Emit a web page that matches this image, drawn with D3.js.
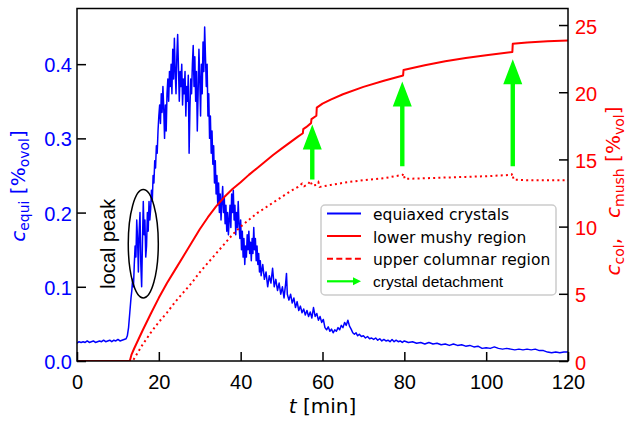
<!DOCTYPE html>
<html>
<head>
<meta charset="utf-8">
<script src="https://cdn.jsdelivr.net/npm/d3@7"></script>
<style>
  body { margin: 0; background: #fff; }
  svg { display: block; }
</style>
</head>
<body>
<svg id="chart" width="627" height="421"></svg>
<script>
// ---- data -------------------------------------------------------------
const timeTicks = [0, 20, 40, 60, 80, 100, 120];
const equiTicks = [0, 0.1, 0.2, 0.3, 0.4];
const volTicks = [0, 5, 10, 15, 20, 25];

// equiaxed crystal fraction c_equi [permille vol] over time t [min]
const equiaxed = [
  [0,.024],[0.5,.026],[1,.025],[1.5,.026],[2,.025],[2.5,.027],[3,.025],[3.5,.026],[4,.027],[4.5,.025],
  [5,.026],[5.5,.027],[6,.026],[6.5,.028],[7,.026],[7.5,.027],[8,.028],[8.5,.026],[9,.028],[9.5,.027],
  [10,.029],[10.5,.027],[11,.028],[11.5,.029],[12,.030],
  [12.3,.034],[12.6,.045],[12.9,.065],[13.2,.085],[13.4,.095],[13.6,.11],[13.8,.10],[14.0,.13],[14.2,.155],
  [14.4,.14],[14.6,.19],[14.8,.165],[15.0,.12],[15.2,.175],[15.4,.20],[15.6,.13],[15.8,.10],[16.0,.16],
  [16.2,.215],[16.4,.17],[16.6,.19],[16.8,.14],[17.0,.155],[17.2,.20],[17.4,.175],[17.6,.215],[17.8,.19],
  [18.0,.205],[18.2,.23],[18.4,.215],[18.6,.25],[18.8,.24],[19.0,.27],[19.2,.26],[19.4,.29],[19.6,.28],
  [19.8,.31],[20.0,.33],[20.2,.345],[20.4,.32],[20.6,.36],[20.8,.335],[21.0,.37],[21.2,.34],[21.4,.30],
  [21.6,.345],[21.8,.31],[22.0,.36],[22.2,.38],[22.4,.35],[22.6,.39],[22.8,.37],[23.0,.40],[23.2,.36],
  [23.4,.42],[23.6,.38],[23.8,.435],[24.0,.39],[24.2,.36],[24.4,.41],[24.6,.44],[24.8,.395],[25.0,.35],
  [25.2,.39],[25.4,.37],[25.6,.40],[25.8,.345],[26.0,.38],[26.2,.36],[26.4,.39],[26.6,.33],[26.8,.37],
  [27.0,.35],[27.2,.385],[27.4,.28],[27.6,.34],[27.8,.38],[28.0,.36],[28.2,.40],[28.4,.425],[28.6,.37],
  [28.8,.41],[29.0,.35],[29.2,.39],[29.4,.31],[29.6,.36],[29.8,.42],[30.0,.38],[30.2,.33],[30.4,.40],
  [30.6,.36],[30.8,.43],[31.0,.39],[31.2,.45],[31.4,.41],[31.6,.37],[31.8,.40],[32.0,.33],[32.2,.36],
  [32.4,.30],[32.6,.33],[32.8,.28],[33.0,.31],[33.2,.265],[33.4,.29],[33.6,.24],[33.8,.27],[34.0,.225],
  [34.2,.25],[34.4,.21],[34.6,.24],[34.8,.20],[35.0,.225],[35.2,.19],[35.4,.215],[35.6,.235],[35.8,.20],
  [36.0,.22],[36.2,.185],[36.4,.21],[36.6,.175],[36.8,.20],[37.0,.17],[37.2,.19],[37.4,.21],[37.6,.18],
  [37.8,.225],[38.0,.20],[38.2,.23],[38.4,.19],[38.6,.21],[38.8,.17],[39.0,.20],[39.2,.18],[39.4,.215],
  [39.6,.185],[39.8,.165],[40.0,.19],[40.2,.15],[40.4,.175],[40.6,.14],[40.8,.165],[41.0,.13],[41.2,.155],
  [41.4,.14],[41.6,.17],[41.8,.15],[42.0,.175],[42.2,.145],[42.4,.16],[42.6,.135],[42.8,.165],[43.0,.145],
  [43.2,.18],[43.4,.15],[43.6,.165],[43.8,.135],[44.0,.155],[44.2,.13],[44.4,.145],[44.6,.12],[44.8,.135],
  [45.0,.115],[45.4,.13],[45.8,.11],[46.2,.12],[46.6,.10],[47.0,.115],[47.4,.105],[47.8,.125],[48.2,.10],
  [48.6,.11],[49.0,.095],[49.4,.105],[49.8,.09],[50.2,.10],[50.6,.085],[51.0,.105],[51.2,.118],[51.4,.09],
  [51.8,.082],[52.2,.09],[52.6,.078],[53.0,.085],[53.4,.072],[53.8,.08],[54.2,.068],[54.6,.074],[55.0,.065],
  [55.4,.07],[55.8,.062],[56.2,.068],[56.6,.06],[57.0,.066],[57.4,.058],[57.8,.072],[58.2,.06],[58.6,.064],
  [59.0,.055],[59.4,.06],[59.8,.052],[60.2,.056],[60.6,.045],[61.0,.042],[61.4,.046],[61.8,.040],[62.2,.043],
  [62.6,.038],[63.0,.042],[63.4,.04],[63.8,.045],[64.2,.042],[64.6,.048],[65.0,.045],[65.4,.052],[65.8,.048],
  [66.2,.055],[66.6,.047],[67.0,.043],[67.4,.038],[67.8,.036],[68.2,.038],[68.6,.034],[69.0,.036],[69.5,.033],
  [70,.034],[70.5,.031],[71,.033],[71.5,.030],[72,.031],[72.5,.029],[73,.031],[73.5,.028],[74,.030],
  [74.5,.027],[75,.029],[75.5,.027],[76,.028],[76.5,.026],[77,.029],[77.5,.026],[78,.028],[78.5,.026],
  [79,.027],[79.5,.025],[80,.027],[81,.025],[82,.026],[83,.024],[84,.025],[85,.023],[86,.025],[87,.023],
  [88,.024],[89,.022],[90,.023],[91,.021],[92,.023],[93,.021],[94,.022],[95,.020],[96,.021],[97,.019],
  [98,.020],[99,.017],[100,.018],[101,.017],[102,.019],[103,.017],[104,.016],[105,.017],[106,.016],
  [107,.015],[108,.016],[109,.015],[110,.016],[111,.015],[112,.016],[113,.014],[114,.014],[115,.012],
  [116,.011],[117,.012],[118,.011],[119,.012],[120,.012]
];

// lower mushy region c_mush [% vol]
const mushy = [
  [0,0],[12.9,0],[13.3,0.45],[14,0.95],[15,1.6],[16,2.25],[18,3.5],[20,4.7],[22,5.8],[24,6.8],
  [26,7.8],[28,8.8],[30,9.8],[32,10.7],[34,11.5],[36,12.2],[38,12.8],[40,13.3],[42,13.85],[44,14.35],
  [46,14.85],[48,15.35],[50,15.8],[52,16.25],[54,16.7],[55.2,16.95],[55.3,17.25],[56,17.4],[57.2,17.7],
  [57.3,18.0],[58.5,18.25],[58.6,18.85],[60,19.15],[62,19.45],[65,19.85],[70,20.4],[75,20.85],
  [79.7,21.25],[79.8,21.65],[85,22.0],[90,22.3],[95,22.55],[100,22.75],[106.4,23.0],[106.5,23.6],
  [110,23.7],[115,23.8],[120,23.85]
];

// upper columnar region c_col [% vol]
const columnar = [
  [0,0],[13.6,0],[14.2,0.3],[15,0.7],[16,1.2],[18,2.1],[20,2.9],[22,3.6],[24,4.4],[26,5.1],[28,5.8],
  [30,6.6],[32,7.3],[34,8.0],[36,8.7],[38,9.4],[40,10.0],[42,10.5],[44,11.0],[46,11.4],[48,11.8],
  [50,12.2],[52,12.6],[54,12.95],[55,13.2],[55.5,13.0],[56.5,13.15],[57,13.4],[57.5,13.05],[58.5,13.1],
  [59,13.3],[59.3,12.95],[62,13.1],[66,13.3],[70,13.45],[75,13.6],[79.6,13.85],[79.8,13.95],[80.1,13.55],
  [85,13.6],[90,13.65],[95,13.7],[100,13.75],[103,13.8],[106.2,13.85],[106.4,13.95],[106.7,13.5],
  [110,13.45],[115,13.45],[120,13.45]
];

// crystal detachment events: time, arrow base and tip on the volume axis
const detachTime = [57.5, 79.5, 106.5];
const detachFrom = [13.5, 14.5, 14.5];
const detachTo = [17.6, 20.8, 22.45];

// local peak marker: centre (t, c_equi) and half extents
const peakCentre = [16.2, 0.158];
const peakHalf = [3.67, 0.073];

const legendItems = [
  { label: "equiaxed crystals", kind: "blue" },
  { label: "lower mushy region", kind: "solid" },
  { label: "upper columnar region", kind: "dotted" },
  { label: "crystal detachment", kind: "arrow" }
];

// ---- scales -----------------------------------------------------------
const BLUE = "#0000ff", RED = "#ff0000", GREEN = "#00ff00";
const plotL = 77, plotR = 568, plotT = 8.5, plotB = 361;

const x = d3.scaleLinear().domain([0, 120]).range([plotL, plotR]);
const yEqui = d3.scaleLinear().domain([0, 0.475]).range([plotB, plotT]);
const yVol = d3.scaleLinear().domain([0, 26.23]).range([plotB, plotT]);

const svg = d3.select("#chart");
const tickFont = "'Liberation Sans', Arial, sans-serif";
const labelFont = "'DejaVu Sans', sans-serif";

svg.append("defs").append("clipPath").attr("id", "plot-clip")
  .append("rect").attr("x", plotL).attr("y", plotT)
  .attr("width", plotR - plotL).attr("height", plotB - plotT);

const plot = svg.append("g").attr("clip-path", "url(#plot-clip)");

// ---- equiaxed curve (left axis) --------------------------------------
plot.append("path")
  .datum(equiaxed)
  .attr("fill", "none")
  .attr("stroke", BLUE)
  .attr("stroke-width", 1.5)
  .attr("stroke-linejoin", "round")
  .attr("d", d3.line().x(d => x(d[0])).y(d => yEqui(d[1])));

// local peak ellipse + note
svg.append("ellipse")
  .attr("cx", x(peakCentre[0]))
  .attr("cy", yEqui(peakCentre[1]))
  .attr("rx", x(peakCentre[0] + peakHalf[0]) - x(peakCentre[0]))
  .attr("ry", yEqui(peakCentre[1]) - yEqui(peakCentre[1] + peakHalf[1]))
  .attr("fill", "none").attr("stroke", "#000").attr("stroke-width", 1.5);

svg.append("text")
  .attr("transform", `translate(${x(peakCentre[0]) - 28.5},${yEqui(peakCentre[1])}) rotate(-90)`)
  .attr("text-anchor", "middle")
  .attr("font-family", tickFont).attr("font-size", 20)
  .text("local peak");

// ---- volume fraction curves (right axis) -----------------------------
const volLine = d3.line().x(d => x(d[0])).y(d => yVol(d[1]));
plot.append("path").datum(columnar)
  .attr("fill", "none").attr("stroke", RED).attr("stroke-width", 2)
  .attr("stroke-dasharray", "2,3.2")
  .attr("d", volLine);
plot.append("path").datum(mushy)
  .attr("fill", "none").attr("stroke", RED).attr("stroke-width", 2)
  .attr("stroke-linejoin", "round")
  .attr("d", volLine);

// ---- detachment arrows -----------------------------------------------
function arrowPath(x0, yBase, yTip, shaftW, headW, headL) {
  const s = shaftW / 2, h = headW / 2;
  return `M${x0 - s},${yBase}L${x0 - s},${yTip + headL}L${x0 - h},${yTip + headL}` +
         `L${x0},${yTip}L${x0 + h},${yTip + headL}L${x0 + s},${yTip + headL}L${x0 + s},${yBase}Z`;
}
detachTime.forEach((t, i) => {
  svg.append("path")
    .attr("d", arrowPath(x(t), yVol(detachFrom[i]), yVol(detachTo[i]), 4.4, 19, 25))
    .attr("fill", GREEN);
});

// ---- axes --------------------------------------------------------------
function styleAxis(g, color) {
  g.select(".domain").remove();
  g.selectAll(".tick line").attr("stroke", "#000").attr("stroke-width", 1.5);
  g.selectAll(".tick text").attr("fill", color)
    .attr("font-family", tickFont).attr("font-size", 20);
}

const xAxis = svg.append("g").attr("transform", `translate(0,${plotB})`)
  .call(d3.axisBottom(x).tickValues(timeTicks).tickSize(-9).tickPadding(13.5).tickFormat(d3.format("d")));
styleAxis(xAxis, "#000");

const yAxisL = svg.append("g").attr("transform", `translate(${plotL},0)`)
  .call(d3.axisLeft(yEqui).tickValues(equiTicks).tickSize(-9).tickPadding(5).tickFormat(d3.format(".1f")));
styleAxis(yAxisL, BLUE);
yAxisL.selectAll(".tick text").attr("dy", "0.38em");

const yAxisR = svg.append("g").attr("transform", `translate(${plotR},0)`)
  .call(d3.axisRight(yVol).tickValues(volTicks).tickSize(-9).tickPadding(7).tickFormat(d3.format("d")));
styleAxis(yAxisR, RED);
yAxisR.selectAll(".tick text").attr("dy", "0.4em");

// frame
svg.append("rect")
  .attr("x", plotL).attr("y", plotT)
  .attr("width", plotR - plotL).attr("height", plotB - plotT)
  .attr("fill", "none").attr("stroke", "#000").attr("stroke-width", 1.5);

// ---- axis titles with subscripts ---------------------------------------
function richLabel(g, parts, size, color) {
  const t = g.append("text")
    .attr("font-family", labelFont).attr("font-size", size)
    .attr("fill", color).attr("text-anchor", "middle");
  let shifted = 0;
  parts.forEach(p => {
    const sub = !!p.sub;
    const target = sub ? size * 0.22 : 0;
    const span = t.append("tspan")
      .attr("font-size", sub ? size * 0.7 : size)
      .attr("dy", target - shifted)
      .text(p.text);
    if (p.italic) span.attr("font-style", "italic");
    shifted = target;
  });
  return t;
}

richLabel(svg.append("g").attr("transform", "translate(25,186) rotate(-90)"),
  [{ text: "c", italic: true }, { text: "equi", sub: true }, { text: " [%" }, { text: "ovol", sub: true }, { text: "]" }],
  20, BLUE);

richLabel(svg.append("g").attr("transform", "translate(620,191) rotate(-90)"),
  [{ text: "c", italic: true }, { text: "col", sub: true }, { text: ",\u2003" },
   { text: "c", italic: true }, { text: "mush", sub: true }, { text: " [%" }, { text: "vol", sub: true }, { text: "]" }],
  20, RED);

richLabel(svg.append("g").attr("transform", `translate(${(plotL + plotR) / 2},413)`),
  [{ text: "t", italic: true }, { text: " [min]" }],
  20, "#000");

// ---- legend -------------------------------------------------------------
const lg = svg.append("g");
lg.append("rect")
  .attr("x", 321).attr("y", 205).attr("width", 235).attr("height", 90).attr("rx", 4)
  .attr("fill", "#fff").attr("fill-opacity", 0.85)
  .attr("stroke", "#cccccc").attr("stroke-width", 1.5);

legendItems.forEach((item, i) => {
  const yb = 220 + i * 22.6;
  const ym = yb - 6.5;
  if (item.kind === "arrow") {
    lg.append("line").attr("x1", 327).attr("x2", 354).attr("y1", ym).attr("y2", ym)
      .attr("stroke", GREEN).attr("stroke-width", 2.2);
    lg.append("path").attr("d", `M353,${ym - 4}L361,${ym}L353,${ym + 4}Z`).attr("fill", GREEN);
  } else {
    const ln = lg.append("line").attr("x1", 327).attr("x2", 361).attr("y1", ym).attr("y2", ym)
      .attr("stroke", item.kind === "blue" ? BLUE : RED).attr("stroke-width", 2);
    if (item.kind === "dotted") ln.attr("stroke-dasharray", "6,3.3");
  }
  lg.append("text")
    .attr("x", 373).attr("y", item.kind === "arrow" ? yb - 0.5 : yb)
    .attr("font-family", item.kind === "arrow" ? tickFont : labelFont)
    .attr("font-size", 15.5)
    .attr("fill", "#000")
    .text(item.label);
});
</script>
</body>
</html>
